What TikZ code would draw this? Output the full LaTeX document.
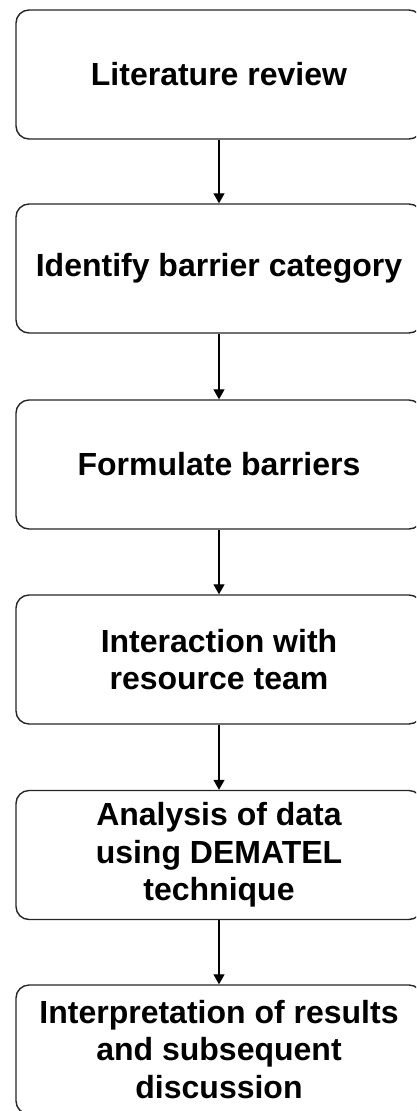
\documentclass[tikz,border=0pt]{standalone}
\usepackage{fontspec}
\setmainfont{Liberation Sans}
\usetikzlibrary{arrows.meta}
\begin{document}
\begin{tikzpicture}[x=1pt,y=-1pt,
  stepbox/.style={draw=black!85, line width=1.4pt, rounded corners=13pt, fill=white,
    minimum width=406pt, minimum height=129pt, align=center, inner sep=0pt,
    font=\fontsize{32}{37.5}\selectfont\bfseries},
  flow/.style={draw=black, line width=1.3pt, -{Triangle[length=10pt,width=11pt]}}]
\clip (0,0) rectangle (416,1111);
\node[stepbox] (b1) at (219,74.5) {Literature review};
\node[stepbox] (b2) at (219,268.5) {Identify barrier category};
\node[stepbox] (b3) at (219,464.5) {Formulate barriers};
\node[stepbox] (b4) at (219,659.5) {Interaction with\\ resource team};
\node[stepbox] (b5) at (219,855) {Analysis of data\\using DEMATEL\\technique};
\node[stepbox] (b6) at (219,1049.5) {Interpretation of results\\and subsequent\\discussion};
\draw[flow] (b1) -- (b2);
\draw[flow] (b2) -- (b3);
\draw[flow] (b3) -- (b4);
\draw[flow] (b4) -- (b5);
\draw[flow] (b5) -- (b6);
\end{tikzpicture}
\end{document}
